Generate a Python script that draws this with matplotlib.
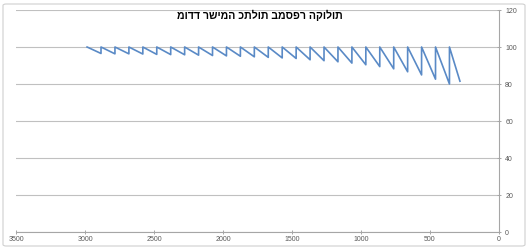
import matplotlib
matplotlib.use("Agg")
import matplotlib.pyplot as plt
from matplotlib.patches import FancyBboxPatch

title_text = "מודד רשימה כתלות במספר הקולות"

# sawtooth: peaks (value 100) and the bottom reached just before each next peak
peak_x = [2985, 2884, 2783, 2682, 2581, 2480, 2379, 2278, 2177, 2076, 1975,
          1874, 1773, 1672, 1571, 1470, 1369, 1268, 1167, 1066, 965, 864,
          763, 662, 561, 460, 359]
peak_y = [100] * 27
bottom_y = [96.5, 96.3, 96.3, 96.2, 96.0, 95.9, 95.8, 95.6, 95.4, 95.2, 95.0,
            94.7, 94.4, 94.1, 93.8, 93.1, 92.6, 92.0, 91.3, 90.4, 89.4, 88.2,
            86.6, 84.9, 82.6, 80.0]
end_x = 283
end_y = 81.5

xticks = [3500, 3000, 2500, 2000, 1500, 1000, 500, 0]
yticks = [0, 20, 40, 60, 80, 100, 120]

# build the line: peak -> bottom at next x -> jump back to 100
xs, ys = [], []
for i in range(len(peak_x)):
    if i > 0:
        xs.append(peak_x[i]); ys.append(bottom_y[i - 1])
    xs.append(peak_x[i]); ys.append(peak_y[i])
xs.append(end_x); ys.append(end_y)

W, H = 529, 249
fig = plt.figure(figsize=(W / 100, H / 100), dpi=100)
fig.patch.set_facecolor("white")

# chart frame
frame = FancyBboxPatch((3 / W, 3 / H), 1 - 7 / W, 1 - 7 / H,
                       boxstyle="round,pad=0,rounding_size=0.006",
                       transform=fig.transFigure, facecolor="white",
                       edgecolor="#D0D0D0", linewidth=0.8, zorder=-5)
fig.patches.append(frame)

ax = fig.add_axes([16 / W, 1 - 232 / H, (499 - 16) / W, (232 - 10) / H])
ax.set_zorder(2)
ax.set_facecolor("none")
ax.plot(xs, ys, color="#5A8AC6", linewidth=1.2, zorder=3)

ax.set_xlim(3500, 0)
ax.set_ylim(0, 120)
ax.set_xticks(xticks)
ax.set_yticks(yticks)
ax.yaxis.tick_right()
ax.yaxis.set_label_position("right")

for s in ["left", "top"]:
    ax.spines[s].set_visible(False)
for s in ["right", "bottom"]:
    ax.spines[s].set_color("#A6A6A6")
    ax.spines[s].set_linewidth(0.8)

ax.grid(axis="y", color="#C0C0C0", linewidth=0.8)
ax.set_axisbelow(True)
ax.tick_params(axis="both", colors="#A6A6A6", labelcolor="#595959",
               labelsize=5, length=3, width=0.7, pad=1.5, direction="inout")
ax.tick_params(axis="y", pad=3)
for lab in ax.get_xticklabels() + ax.get_yticklabels():
    lab.set_family(["Liberation Sans", "DejaVu Sans"])

fig.text(260 / W, 1 - 15 / H, title_text, ha="center", va="center",
         fontsize=7.6, fontweight="bold", color="black",
         family=["Liberation Sans", "DejaVu Sans"], zorder=5)

fig.savefig("out.png", dpi=100, facecolor="white")
